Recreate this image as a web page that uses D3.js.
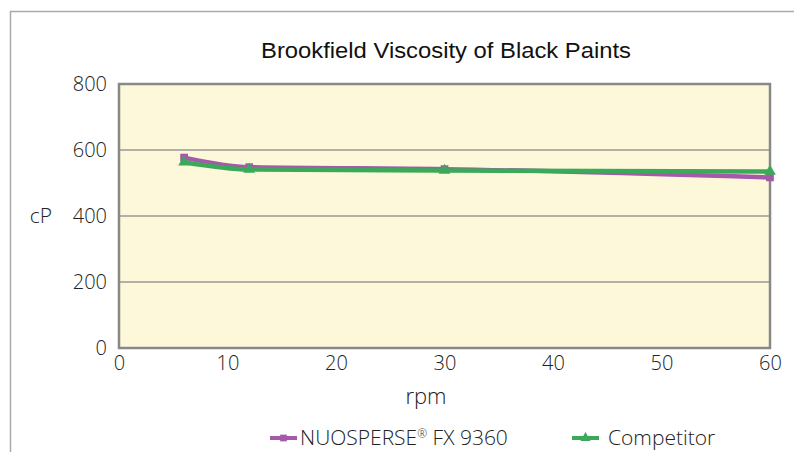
<!DOCTYPE html>
<html>
<head>
<meta charset="utf-8">
<script src="https://cdn.jsdelivr.net/npm/d3@7"></script>
<style>
  body { margin: 0; background: #fff; }
  svg { display: block; }
  .tick text { font-family: "Open Sans", sans-serif; font-weight: 300; }
</style>
</head>
<body>
<svg width="794" height="452"></svg>
<script>
const rpm = [6, 12, 30, 60];
const nuosperse = [577, 548, 542, 517];
const competitor = [563, 541, 538, 535];
const yTicks = [0, 200, 400, 600, 800];
const xTicks = [0, 10, 20, 30, 40, 50, 60];
const seriesNames = ["NUOSPERSE", "Competitor"];

const svgWidth = 794;
const svgHeight = 452;
const svg = d3.select("svg");

const margin = { left: 119, right: 24, top: 84, bottom: 104 };
const chartWidth = svgWidth - margin.left - margin.right;
const chartHeight = svgHeight - margin.top - margin.bottom;

// outer frame, cut off at right and bottom
svg.append("rect")
  .attr("x", 10.5).attr("y", 11.5)
  .attr("width", 800).attr("height", 460)
  .attr("fill", "none")
  .attr("stroke", "#aaaaaa")
  .attr("stroke-width", 1.5);

svg.append("text")
  .attr("x", 446).attr("y", 58)
  .attr("text-anchor", "middle")
  .attr("font-family", "Liberation Sans, Arial, sans-serif")
  .attr("font-size", 21.5)
  .attr("textLength", 370)
  .attr("lengthAdjust", "spacingAndGlyphs")
  .attr("fill", "#111")
  .text("Brookfield Viscosity of Black Paints");

const chartGroup = svg.append("g")
  .attr("transform", `translate(${margin.left}, ${margin.top})`);

const xScaler = d3.scaleLinear().domain([0, 60]).range([0, chartWidth]);
const yScaler = d3.scaleLinear().domain([0, 800]).range([chartHeight, 0]);

chartGroup.append("rect")
  .attr("width", chartWidth).attr("height", chartHeight)
  .attr("fill", "#fdf8d9");

chartGroup.append("g")
  .selectAll("line")
  .data(yTicks.filter((d) => d > 0 && d < 800))
  .join("line")
  .attr("x1", 0).attr("x2", chartWidth)
  .attr("y1", (d) => yScaler(d)).attr("y2", (d) => yScaler(d))
  .attr("stroke", "#999")
  .attr("stroke-width", 1.5);

chartGroup.append("rect")
  .attr("width", chartWidth).attr("height", chartHeight)
  .attr("fill", "none")
  .attr("stroke", "#888")
  .attr("stroke-width", 2.5);

const xAxisGroup = chartGroup.append("g")
  .attr("transform", `translate(0, ${chartHeight})`)
  .call(d3.axisBottom(xScaler).tickValues(xTicks).tickSize(0).tickPadding(8));
const yAxisGroup = chartGroup.append("g")
  .call(d3.axisLeft(yScaler).tickValues(yTicks).tickSize(0).tickPadding(12));
[xAxisGroup, yAxisGroup].forEach((g) => {
  g.select(".domain").remove();
  g.selectAll("text").attr("font-size", 20).attr("fill", "#222");
});

svg.append("text")
  .attr("x", 41).attr("y", 223)
  .attr("text-anchor", "middle")
  .attr("font-family", "Open Sans, sans-serif").attr("font-weight", 300)
  .attr("font-size", 21).attr("fill", "#222")
  .text("cP");
svg.append("text")
  .attr("x", 426).attr("y", 404)
  .attr("text-anchor", "middle")
  .attr("font-family", "Open Sans, sans-serif").attr("font-weight", 300)
  .attr("font-size", 22).attr("fill", "#222")
  .text("rpm");

const line = d3.line()
  .x((d) => xScaler(d[0]))
  .y((d) => yScaler(d[1]))
  .curve(d3.curveMonotoneX);

const series = [
  { name: seriesNames[0], suffix: " FX 9360", values: nuosperse, color: "#a45aa8", marker: "square" },
  { name: seriesNames[1], suffix: "", values: competitor, color: "#3aaa5a", marker: "triangle" },
];

const markerPath = (type, size) =>
  d3.symbol().type(type === "square" ? d3.symbolSquare : d3.symbolTriangle).size(size)();

series.forEach((s) => {
  const pts = rpm.map((r, i) => [r, s.values[i]]);
  chartGroup.append("path")
    .datum(pts)
    .attr("d", line)
    .attr("fill", "none")
    .attr("stroke", s.color)
    .attr("stroke-width", 4.5);
  chartGroup.append("g")
    .selectAll("path")
    .data(pts)
    .join("path")
    .attr("transform", (d) => `translate(${xScaler(d[0])}, ${yScaler(d[1])})`)
    .attr("d", markerPath(s.marker, 60))
    .attr("fill", s.color);
});

// legend
const legend = svg.append("g");
const legendItems = [
  { x: 270, textX: 300, s: series[0], reg: true },
  { x: 572, textX: 608, s: series[1], reg: false },
];
legendItems.forEach((item) => {
  legend.append("line")
    .attr("x1", item.x).attr("x2", item.x + 27)
    .attr("y1", 438).attr("y2", 438)
    .attr("stroke", item.s.color).attr("stroke-width", 4);
  legend.append("path")
    .attr("transform", `translate(${item.x + 13.5}, 438)`)
    .attr("d", markerPath(item.s.marker, 45))
    .attr("fill", item.s.color);
  const t = legend.append("text")
    .attr("x", item.textX).attr("y", 445)
    .attr("font-family", "Open Sans, sans-serif").attr("font-weight", 300)
    .attr("font-size", 21).attr("fill", "#222");
  t.append("tspan").text(item.s.name);
  if (item.reg) {
    t.append("tspan").attr("font-size", 12).attr("dy", -7).text("\u00AE");
    t.append("tspan").attr("dy", 7).text(item.s.suffix);
  }
});
</script>
</body>
</html>
